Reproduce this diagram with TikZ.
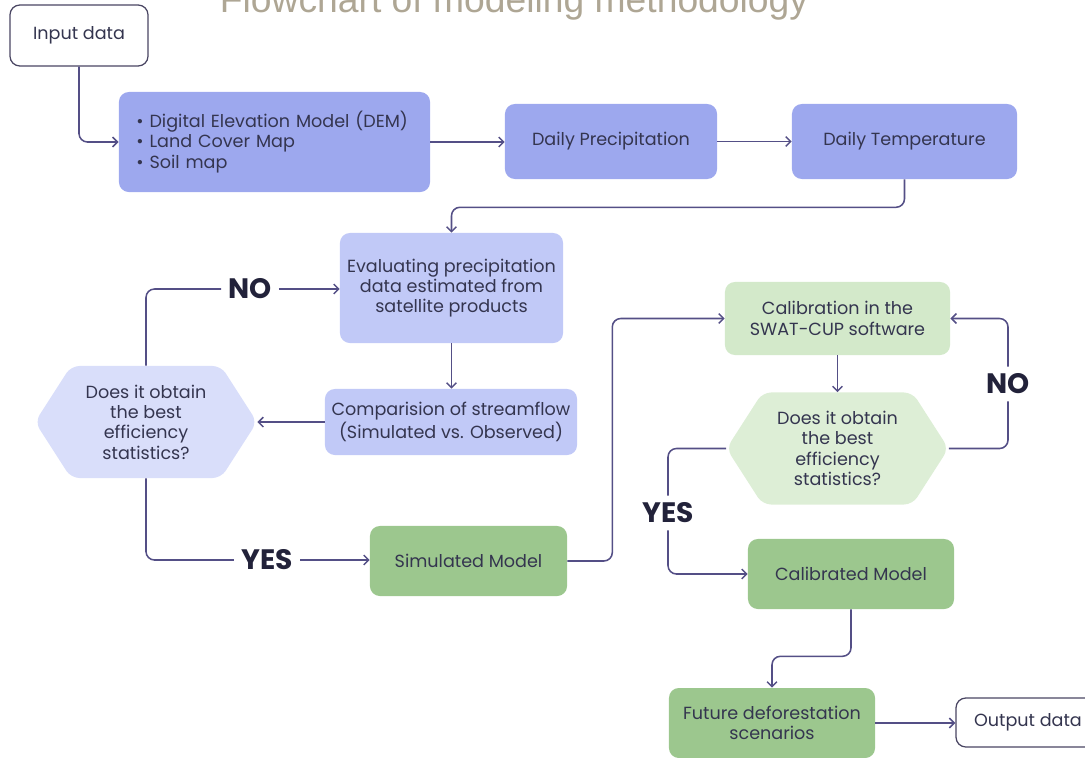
\documentclass[tikz,border=0pt]{standalone}
\usepackage{fontspec}
\setmainfont{Poppins}
\newfontfamily\titlefont{Liberation Sans}
\usetikzlibrary{arrows.meta}
\definecolor{bluedark}{HTML}{9DA8EE}
\definecolor{bluemid}{HTML}{C1C9F7}
\definecolor{bluelight}{HTML}{D9DEFA}
\definecolor{greendark}{HTML}{9CC78E}
\definecolor{greenlight}{HTML}{D3E9CA}
\definecolor{greenpale}{HTML}{DDEED6}
\definecolor{linec}{HTML}{544F86}
\definecolor{txt}{HTML}{34354F}
\definecolor{lblc}{HTML}{22223A}
\definecolor{framec}{HTML}{4A4663}
\definecolor{titlec}{HTML}{AEA694}
\begin{document}
\begin{tikzpicture}[x=0.025cm,y=-0.025cm,
  box/.style={rounded corners=7pt,align=center,text=txt,inner sep=2pt,
    font=\fontsize{12.5}{14.5}\selectfont},
  frame/.style={box,draw=framec,line width=0.9pt,fill=white},
  hexbox/.style={align=center,text=txt,inner sep=2pt,
    font=\fontsize{12.5}{14.5}\selectfont,
    minimum width=5.55cm,minimum height=2.8cm,
    path picture={\fill[#1,rounded corners=6pt]
      (path picture bounding box.west)
      -- ([xshift=0.9cm]path picture bounding box.north west)
      -- ([xshift=-0.9cm]path picture bounding box.north east)
      -- (path picture bounding box.east)
      -- ([xshift=-0.9cm]path picture bounding box.south east)
      -- ([xshift=0.9cm]path picture bounding box.south west) -- cycle;}},
  line/.style={draw=linec,line width=1.1pt,rounded corners=6pt},
  arr/.style={line,-{Straight Barb[length=3.5pt,width=7pt]}},
  lbl/.style={text=lblc,inner sep=5pt,font=\fontsize{20}{24}\selectfont\bfseries}]
  \useasboundingbox (0,0) rectangle (1085,757);
  \clip (0,0) rectangle (1085,757);
  % title
  \node[anchor=base,text=titlec,inner sep=0pt,font=\titlefont\fontsize{26.5}{30}\selectfont]
    (title) at (514,12.5) {Flowchart of modeling methodology};
  % input row
  \node[frame,minimum width=3.45cm,minimum height=1.525cm] (inp) at (79,35.5) {Input data};
  \node[box,fill=bluedark,minimum width=7.775cm,minimum height=2.5cm,align=left,text width=6.9cm]
    (dem) at (274.5,142) {\textbullet\ Digital Elevation Model (DEM)\\
      \textbullet\ Land Cover Map\\ \textbullet\ Soil map};
  \node[box,fill=bluedark,minimum width=5.3cm,minimum height=1.875cm] (dp) at (611,141.5) {Daily Precipitation};
  \node[box,fill=bluedark,minimum width=5.625cm,minimum height=1.875cm] (dt) at (904.5,141.5) {Daily Temperature};
  % satellite evaluation loop
  \node[box,fill=bluemid,minimum width=5.575cm,minimum height=2.75cm] (eval) at (451.5,288)
    {Evaluating precipitation\\ data estimated from\\ satellite products};
  \node[box,fill=bluemid,minimum width=6.3cm,minimum height=1.65cm] (cmp) at (451,422)
    {Comparision of streamflow\\ (Simulated vs. Observed)};
  \node[hexbox=bluelight] (hex1) at (146,422) {Does it obtain\\ the best\\ efficiency\\ statistics?};
  \node[lbl] (no1) at (250,289) {NO};
  \node[lbl] (yes1) at (267,560) {YES};
  \node[box,fill=greendark,minimum width=4.925cm,minimum height=1.75cm] (sim) at (468.5,561) {Simulated Model};
  % calibration loop
  \node[box,fill=greenlight,minimum width=5.625cm,minimum height=1.825cm] (cal) at (837.5,318.5)
    {Calibration in the\\ SWAT-CUP software};
  \node[hexbox=greenpale] (hex2) at (837.5,448.5) {Does it obtain\\ the best\\ efficiency\\ statistics?};
  \node[lbl] (no2) at (1008,384) {NO};
  \node[lbl] (yes2) at (668,513) {YES};
  \node[box,fill=greendark,minimum width=5.15cm,minimum height=1.75cm] (cald) at (851,574) {Calibrated Model};
  % output
  \node[box,fill=greendark,minimum width=5.15cm,minimum height=1.75cm] (fut) at (772,723)
    {Future deforestation\\ scenarios};
  \node[frame,minimum width=3.6cm,minimum height=1.225cm] (out) at (1028,722.5) {Output data};
  % connectors
  \draw[arr] (inp.south) |- (dem.west);
  \draw[arr] (dem.east) -- (dem.east -| dp.west);
  \draw[arr] (dp.east) -- (dt.west);
  \draw[arr] (dt.south) -- ++(0,28) -| (eval.north);
  \draw[arr] (eval.south) -- (eval.south |- cmp.north);
  \draw[arr] (cmp.west) -- (hex1.east);
  \draw[line] (hex1.north) |- (no1.west);
  \draw[arr] (no1.east) -- (no1.east -| eval.west);
  \draw[line] (hex1.south) |- (yes1.west);
  \draw[arr] (yes1.east) -- (yes1.east -| sim.west);
  \draw[arr] (sim.east) -- ++(45,0) |- (cal.west);
  \draw[arr] (cal.south) -- (hex2.north);
  \draw[line] (hex2.east) -| (no2.south);
  \draw[arr] (no2.north) |- (cal.east);
  \draw[line] (hex2.west) -| (yes2.north);
  \draw[arr] (yes2.south) |- (cald.west);
  \draw[arr] (cald.south) -- ++(0,47) -| (fut.north);
  \draw[arr] (fut.east) -- (fut.east -| out.west);
\end{tikzpicture}
\end{document}
